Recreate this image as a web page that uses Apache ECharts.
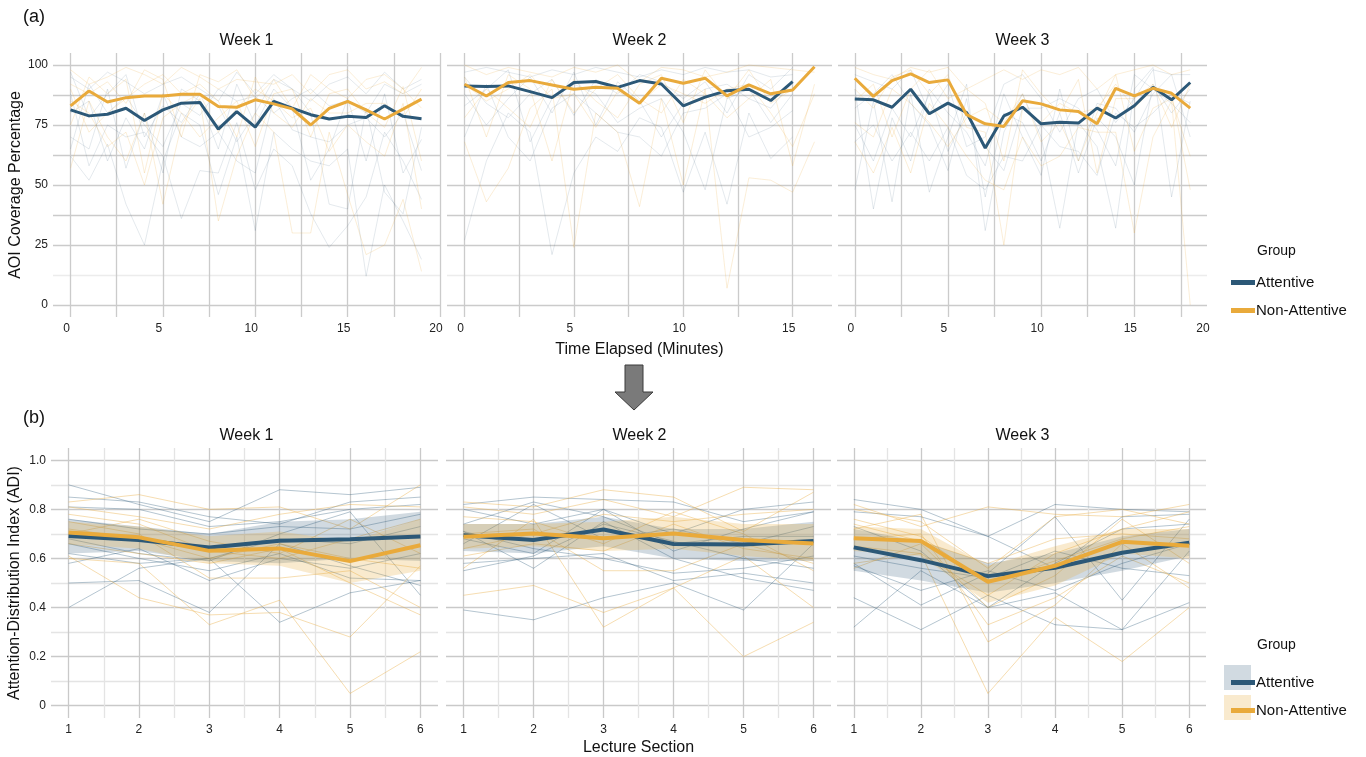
<!DOCTYPE html>
<html>
<head>
<meta charset="utf-8">
<script src="https://cdn.jsdelivr.net/npm/echarts@6.0.0/dist/echarts.min.js"></script>
<style>
html, body { margin: 0; padding: 0; background: #fff; }
#main { width: 1366px; height: 757px; }
</style>
</head>
<body>
<div id="main"></div>
<script>
var weeks = ['Week 1', 'Week 2', 'Week 3'];
var groups = ['Attentive', 'Non-Attentive'];

// (a) AOI coverage percentage per minute, group means
var minutesW1 = [0,1,2,3,4,5,6,7,8,9,10,11,12,13,14,15,16,17,18,19];
var minutesW2 = [0,1,2,3,4,5,6,7,8,9,10,11,12,13,14,15,16];
var minutesW3 = [0,1,2,3,4,5,6,7,8,9,10,11,12,13,14,15,16,17,18];

var aoiAttW1 = [81.3,78.8,79.5,82.0,76.9,81.3,84.1,84.4,73.3,80.6,74.1,84.8,82.0,79.3,77.5,78.6,78.1,83.0,78.6,77.6];
var aoiNonW1 = [83.0,89.2,84.6,86.4,87.1,87.1,87.8,87.8,82.7,82.4,85.5,83.8,81.7,75.0,81.9,84.8,81.3,77.5,81.6,85.8];
var aoiAttW2 = [91.3,91.0,91.3,88.9,86.4,92.7,93.1,90.7,93.5,92.1,83.0,86.6,89.3,89.9,85.2,93.1];
var aoiNonW2 = [92.0,87.1,92.7,93.5,91.7,89.9,90.7,90.3,84.1,94.5,92.4,94.5,87.1,91.7,88.0,89.6,99.3];
var aoiAttW3 = [85.8,85.5,82.4,89.9,79.7,84.1,80.2,65.4,78.8,82.4,75.5,76.1,75.8,82.0,77.9,83.0,90.7,85.5,92.7];
var aoiNonW3 = [94.5,86.9,93.5,96.3,92.7,93.8,79.3,75.5,74.4,85.1,83.8,81.3,80.6,75.5,90.3,87.1,90.3,88.2,82.0];

// (a) individual students (faint lines)
var aoiAttIndW1 = [
    [95,90,97,93,88,92,95,90,85,97,88,96,90,85,92,95,88,97,90,94],
    [62,52,67,42,25,60,80,75,46,70,31,72,65,60,58,65,12,50,35,19],
    [88,58,75,70,72,62,36,56,55,76,48,65,58,38,24,33,45,72,60,44],
    [80,85,60,78,65,88,70,66,72,60,55,86,73,70,68,75,78,70,80,56],
    [70,65,90,57,80,55,90,85,65,92,75,90,82,52,65,86,60,88,55,69],
    [97,78,88,96,70,83,76,88,83,68,80,94,90,80,42,40,82,47,38,74],
    [65,92,80,87,75,66,84,79,90,85,87,80,86,90,83,85,80,92,88,92]
];
var aoiNonIndW1 = [
    [98,92,95,99,96,92,99,95,90,94,93,92,96,88,96,98,90,93,88,99],
    [57,85,70,60,80,42,75,86,35,62,80,72,30,30,72,46,21,25,44,14],
    [75,95,88,94,55,88,80,70,78,85,66,88,90,70,88,90,80,74,91,60],
    [90,72,80,86,92,96,88,92,85,70,95,80,74,86,80,80,84,84,78,90],
    [85,80,66,72,50,78,84,88,72,82,90,85,78,82,64,75,68,62,84,40],
    [92,88,93,84,98,94,70,96,93,98,86,94,82,96,90,86,94,96,90,82]
];
var aoiAttIndW2 = [
    [97,99,97,95,98,96,99,97,95,98,96,99,97,98,95,96],
    [27,60,80,72,21,55,70,64,78,74,47,72,42,80,61,70],
    [83,90,98,68,86,92,88,76,82,86,72,48,86,90,76,88],
    [88,75,86,95,80,97,75,93,85,70,84,90,92,86,82,93],
    [95,84,78,88,94,79,94,88,96,93,86,93,80,96,90,99],
    [70,92,70,60,82,88,80,72,70,62,80,82,88,70,74,81]
];
var aoiNonIndW2 = [
    [100,96,99,97,95,99,97,100,93,99,98,95,97,100,99,98,97],
    [68,43,57,82,90,24,80,72,41,86,50,90,7,53,52,47,68],
    [92,85,90,96,86,88,74,89,84,92,88,84,90,92,80,66,88],
    [78,90,82,74,94,80,90,96,86,80,94,88,78,86,94,58,92],
    [95,70,96,90,60,94,85,78,92,96,76,98,86,98,84,90,99]
];
var aoiAttIndW3 = [
    [48,85,43,88,47,70,92,31,72,88,70,32,76,66,32,90,99,45,85],
    [90,40,78,60,90,80,72,58,88,70,54,90,60,84,82,72,88,96,70],
    [82,88,96,84,75,56,86,45,80,76,60,80,55,78,70,50,92,80,90],
    [96,93,90,98,80,92,66,70,92,96,86,72,86,90,76,86,98,96,96],
    [68,75,60,72,60,74,54,48,62,60,75,66,64,54,80,74,80,88,84],
    [75,60,82,70,88,64,80,66,56,82,82,86,82,73,58,96,90,84,76]
];
var aoiNonIndW3 = [
    [99,96,94,99,97,99,90,94,98,94,98,96,99,90,96,98,100,96,98],
    [68,55,74,55,84,74,62,52,48,70,58,62,74,72,72,30,70,85,0],
    [90,82,95,98,88,96,74,72,25,82,76,84,80,82,92,82,90,88,48],
    [85,92,70,90,98,86,90,84,60,98,88,80,94,55,86,86,92,74,92],
    [76,70,90,84,76,66,78,82,76,88,68,76,60,80,96,64,82,86,62]
];

// (b) Attention-Distribution Index per lecture section
var sections = [1, 2, 3, 4, 5, 6];

var adiAttW1 = [0.691,0.675,0.645,0.672,0.678,0.689];
var adiAttLoW1 = [0.62,0.63,0.59,0.58,0.60,0.59];
var adiAttHiW1 = [0.76,0.73,0.70,0.75,0.76,0.79];
var adiNonW1 = [0.706,0.686,0.631,0.641,0.589,0.654];
var adiNonLoW1 = [0.66,0.64,0.58,0.57,0.50,0.55];
var adiNonHiW1 = [0.75,0.73,0.69,0.71,0.67,0.76];

var adiAttW2 = [0.695,0.675,0.718,0.659,0.657,0.671];
var adiAttLoW2 = [0.63,0.62,0.65,0.60,0.59,0.59];
var adiAttHiW2 = [0.74,0.74,0.77,0.72,0.72,0.75];
var adiNonW2 = [0.688,0.702,0.682,0.702,0.675,0.661];
var adiNonLoW2 = [0.64,0.65,0.63,0.64,0.61,0.59];
var adiNonHiW2 = [0.74,0.74,0.75,0.77,0.74,0.74];

var adiAttW3 = [0.645,0.593,0.528,0.562,0.623,0.664];
var adiAttLoW3 = [0.55,0.51,0.46,0.50,0.55,0.61];
var adiAttHiW3 = [0.72,0.67,0.58,0.62,0.69,0.72];
var adiNonW3 = [0.682,0.671,0.505,0.570,0.668,0.652];
var adiNonLoW3 = [0.63,0.61,0.42,0.49,0.62,0.60];
var adiNonHiW3 = [0.73,0.72,0.57,0.65,0.72,0.72];

// (b) individual students
var adiAttIndW1 = [
    [0.90,0.82,0.75,0.88,0.86,0.89],
    [0.85,0.83,0.77,0.74,0.83,0.85],
    [0.81,0.80,0.73,0.75,0.80,0.82],
    [0.76,0.72,0.70,0.73,0.72,0.78],
    [0.68,0.62,0.59,0.70,0.79,0.45],
    [0.66,0.60,0.55,0.62,0.52,0.51],
    [0.50,0.51,0.38,0.66,0.57,0.49],
    [0.40,0.56,0.60,0.34,0.46,0.51],
    [0.58,0.64,0.51,0.60,0.56,0.62],
    [0.62,0.58,0.60,0.68,0.66,0.73]
];
var adiNonIndW1 = [
    [0.83,0.86,0.80,0.81,0.72,0.90],
    [0.81,0.77,0.72,0.78,0.82,0.81],
    [0.70,0.76,0.67,0.62,0.76,0.62],
    [0.61,0.44,0.37,0.38,0.28,0.57],
    [0.60,0.58,0.33,0.43,0.05,0.22],
    [0.75,0.70,0.52,0.52,0.55,0.40],
    [0.66,0.62,0.58,0.64,0.50,0.37],
    [0.78,0.74,0.63,0.60,0.68,0.76],
    [0.72,0.68,0.60,0.66,0.60,0.56]
];
var adiAttIndW2 = [
    [0.82,0.85,0.84,0.83,0.75,0.79],
    [0.80,0.74,0.80,0.70,0.80,0.83],
    [0.74,0.83,0.77,0.66,0.69,0.69],
    [0.55,0.61,0.74,0.67,0.60,0.56],
    [0.39,0.35,0.44,0.50,0.39,0.66],
    [0.71,0.56,0.75,0.60,0.52,0.47],
    [0.58,0.60,0.62,0.51,0.54,0.50],
    [0.66,0.82,0.68,0.72,0.66,0.73],
    [0.68,0.62,0.80,0.63,0.72,0.79],
    [0.71,0.64,0.60,0.54,0.56,0.61]
];
var adiNonIndW2 = [
    [0.83,0.81,0.88,0.85,0.71,0.87],
    [0.81,0.78,0.84,0.77,0.89,0.88],
    [0.45,0.49,0.38,0.48,0.20,0.34],
    [0.56,0.76,0.32,0.48,0.61,0.40],
    [0.70,0.72,0.55,0.55,0.66,0.58],
    [0.64,0.70,0.78,0.75,0.78,0.80],
    [0.77,0.75,0.66,0.79,0.70,0.55],
    [0.61,0.66,0.63,0.74,0.64,0.60]
];
var adiAttIndW3 = [
    [0.84,0.80,0.69,0.82,0.80,0.79],
    [0.79,0.77,0.69,0.56,0.77,0.78],
    [0.58,0.41,0.54,0.77,0.43,0.76],
    [0.32,0.55,0.40,0.46,0.31,0.63],
    [0.44,0.31,0.45,0.33,0.31,0.42],
    [0.57,0.47,0.55,0.47,0.58,0.66],
    [0.61,0.56,0.52,0.63,0.56,0.53],
    [0.73,0.63,0.40,0.58,0.72,0.74]
];
var adiNonIndW3 = [
    [0.82,0.73,0.81,0.78,0.77,0.82],
    [0.80,0.75,0.56,0.77,0.80,0.74],
    [0.58,0.62,0.05,0.36,0.18,0.40],
    [0.72,0.78,0.26,0.41,0.66,0.48],
    [0.68,0.70,0.33,0.44,0.61,0.50],
    [0.65,0.62,0.45,0.62,0.72,0.79],
    [0.74,0.67,0.58,0.68,0.70,0.68],
    [0.56,0.66,0.40,0.53,0.76,0.58],
    [0.76,0.69,0.50,0.59,0.68,0.73]
];

// tick and label positions
var aoiYTicks = [0,12.5,25,37.5,50,62.5,75,87.5,100];
var aoiYLabels = [0,25,50,75,100];
var adiYTicks = [0,0.1,0.2,0.3,0.4,0.5,0.6,0.7,0.8,0.9,1.0];
var adiYLabels = [0,0.2,0.4,0.6,0.8,1.0];
var minuteTicks = [
    [0,2.5,5,7.5,10,12.5,15,17.5,20],
    [0,2.5,5,7.5,10,12.5,15],
    [0,2.5,5,7.5,10,12.5,15,17.5]
];
var minuteLabels = [[0,5,10,15,20],[0,5,10,15],[0,5,10,15,20]];
var sectionTicks = [1,1.5,2,2.5,3,3.5,4,4.5,5,5.5,6];

var BLUE = '#2c5877';
var ORANGE = '#e9aa3b';
var FONT = 'Liberation Sans, Arial, sans-serif';
var GRID_MAJOR = '#c9c9c9';
var GRID_MINOR = '#e4e4e4';

var colLeft = [53, 447, 838];
var colWidth = [387, 385, 369];
var minuteRange = [[-0.95, 20], [-0.8, 16.8], [-0.9, 18.9]];

var aoiMeans = [[aoiAttW1, aoiNonW1], [aoiAttW2, aoiNonW2], [aoiAttW3, aoiNonW3]];
var aoiInd = [[aoiAttIndW1, aoiNonIndW1], [aoiAttIndW2, aoiNonIndW2], [aoiAttIndW3, aoiNonIndW3]];
var minutes = [minutesW1, minutesW2, minutesW3];
var adiMeans = [[adiAttW1, adiNonW1], [adiAttW2, adiNonW2], [adiAttW3, adiNonW3]];
var adiLo = [[adiAttLoW1, adiNonLoW1], [adiAttLoW2, adiNonLoW2], [adiAttLoW3, adiNonLoW3]];
var adiHi = [[adiAttHiW1, adiNonHiW1], [adiAttHiW2, adiNonHiW2], [adiAttHiW3, adiNonHiW3]];
var adiInd = [[adiAttIndW1, adiNonIndW1], [adiAttIndW2, adiNonIndW2], [adiAttIndW3, adiNonIndW3]];
var groupColor = [BLUE, ORANGE];

function pairs(xs, vals) {
    return vals.map(function (v, i) { return [xs[i], v]; });
}

var grids = [], xAxes = [], yAxes = [], series = [];

function addTopPanel(w) {
    var k = grids.length;
    grids.push({left: colLeft[w], width: colWidth[w], top: 53, height: 264, containLabel: false, outerBoundsMode: 'none'});
    xAxes.push({
        type: 'value', gridIndex: k, min: minuteRange[w][0], max: minuteRange[w][1],
        axisLine: {show: false},
        axisTick: {show: false, customValues: minuteTicks[w]},
        axisLabel: {
            customValues: minuteLabels[w].map(function (v) { return Math.min(v, minuteRange[w][1]); }),
            formatter: function (v) { return String(Math.round(v / 5) * 5); },
            color: '#222', fontSize: 12, fontFamily: FONT, margin: 6, padding: [0, 8, 0, 0]
        },
        splitLine: {show: true, lineStyle: {color: '#cbcbcb', width: 1.3}},
        name: w === 1 ? 'Time Elapsed (Minutes)' : '', nameLocation: 'middle', nameGap: 25,
        nameTextStyle: {fontSize: 16, color: '#111', fontFamily: FONT}
    });
    yAxes.push({
        type: 'value', gridIndex: k, min: -5, max: 105,
        axisLine: {show: false},
        axisTick: {show: false, customValues: aoiYTicks},
        axisLabel: {show: w === 0, customValues: aoiYLabels, color: '#222', fontSize: 12, fontFamily: FONT, margin: 5},
        splitLine: {show: true, lineStyle: {
            color: ['#cbcbcb', '#ececec', '#cbcbcb', '#cbcbcb', '#cbcbcb', '#cbcbcb', '#cbcbcb', '#cbcbcb', '#cbcbcb'],
            width: 1.3
        }},
        name: w === 0 ? 'AOI Coverage Percentage' : '', nameLocation: 'middle', nameGap: 28,
        nameTextStyle: {fontSize: 16, color: '#111', fontFamily: FONT}
    });
    for (var g = 0; g < 2; g++) {
        aoiInd[w][g].forEach(function (vals) {
            series.push({
                name: groups[g], type: 'line', xAxisIndex: k, yAxisIndex: k,
                data: pairs(minutes[w], vals), symbol: 'none', silent: true, z: 1,
                lineStyle: {color: groupColor[g], width: 1, opacity: g === 0 ? 0.13 : 0.2}
            });
        });
    }
    for (g = 0; g < 2; g++) {
        series.push({
            name: groups[g], type: 'line', xAxisIndex: k, yAxisIndex: k,
            data: pairs(minutes[w], aoiMeans[w][g]), symbol: 'none', silent: true, z: 4 + g,
            lineStyle: {color: groupColor[g], width: 3}
        });
    }
}

// confidence ribbon drawn as one polygon through the axis scales
function ribbonSeries(k, name, lo, hi, color, opacity) {
    return {
        name: name, type: 'custom', xAxisIndex: k, yAxisIndex: k, silent: true, z: 2,
        data: sections.map(function (x, i) { return [x, lo[i], hi[i]]; }),
        encode: {x: 0, y: [1, 2]},
        renderItem: function (params, api) {
            if (params.dataIndex !== 0) return null;
            var pts = [], i;
            for (i = 0; i < sections.length; i++) pts.push(api.coord([sections[i], hi[i]]));
            for (i = sections.length - 1; i >= 0; i--) pts.push(api.coord([sections[i], lo[i]]));
            return {type: 'polygon', shape: {points: pts}, style: {fill: color, opacity: opacity}};
        }
    };
}

function addBottomPanel(w) {
    var k = grids.length;
    grids.push({left: colLeft[w] - (w === 0 ? 2 : 1), width: colWidth[w], top: 448, height: 270, containLabel: false, outerBoundsMode: 'none'});
    xAxes.push({
        type: 'value', gridIndex: k, min: 0.75, max: 6.25,
        axisLine: {show: false},
        axisTick: {show: false, customValues: sectionTicks},
        axisLabel: {customValues: sections, color: '#222', fontSize: 12, fontFamily: FONT, margin: 6},
        splitLine: {show: true, lineStyle: {color: [GRID_MAJOR, GRID_MINOR], width: 1.3}},
        name: w === 1 ? 'Lecture Section' : '', nameLocation: 'middle', nameGap: 22,
        nameTextStyle: {fontSize: 16, color: '#111', fontFamily: FONT}
    });
    yAxes.push({
        type: 'value', gridIndex: k, min: -0.05, max: 1.05,
        axisLine: {show: false},
        axisTick: {show: false, customValues: adiYTicks},
        axisLabel: {
            show: w === 0, customValues: adiYLabels, color: '#222', fontSize: 12, fontFamily: FONT, margin: 5,
            formatter: function (v) { return v === 0 ? '0' : v.toFixed(1); }
        },
        splitLine: {show: true, lineStyle: {color: [GRID_MAJOR, GRID_MINOR], width: 1.3}},
        name: w === 0 ? 'Attention-Distribution Index (ADI)' : '', nameLocation: 'middle', nameGap: 28,
        nameTextStyle: {fontSize: 16, color: '#111', fontFamily: FONT}
    });
    for (var g = 0; g < 2; g++) {
        adiInd[w][g].forEach(function (vals) {
            series.push({
                name: groups[g], type: 'line', xAxisIndex: k, yAxisIndex: k,
                data: pairs(sections, vals), symbol: 'none', silent: true, z: 1,
                lineStyle: {color: groupColor[g], width: 1, opacity: g === 0 ? 0.35 : 0.4}
            });
        });
    }
    for (g = 0; g < 2; g++) {
        series.push(ribbonSeries(k, groups[g], adiLo[w][g], adiHi[w][g], groupColor[g], g === 0 ? 0.22 : 0.25));
    }
    for (g = 0; g < 2; g++) {
        series.push({
            name: groups[g], type: 'line', xAxisIndex: k, yAxisIndex: k,
            data: pairs(sections, adiMeans[w][g]), symbol: 'none', silent: true, z: 4 + g,
            lineStyle: {color: groupColor[g], width: 4}
        });
    }
}

for (var w = 0; w < 3; w++) {
    addTopPanel(w);
    addBottomPanel(w);
}

var graphics = [];
var titleStyle = {fontSize: 16, fill: '#111', fontFamily: FONT, align: 'center', verticalAlign: 'middle'};
for (var i = 0; i < 3; i++) {
    var cx = colLeft[i] + colWidth[i] / 2;
    graphics.push({type: 'text', x: cx, y: 41, style: Object.assign({text: weeks[i]}, titleStyle)});
    graphics.push({type: 'text', x: cx, y: 436, style: Object.assign({text: weeks[i]}, titleStyle)});
}
graphics.push({type: 'text', x: 23, y: 17, style: {text: '(a)', fontSize: 18, fill: '#111', fontFamily: FONT, verticalAlign: 'middle'}});
graphics.push({type: 'text', x: 23, y: 418, style: {text: '(b)', fontSize: 18, fill: '#111', fontFamily: FONT, verticalAlign: 'middle'}});
graphics.push({type: 'text', x: 1257, y: 251, style: {text: 'Group', fontSize: 14, fill: '#111', fontFamily: FONT, verticalAlign: 'middle'}});
graphics.push({type: 'text', x: 1257, y: 645, style: {text: 'Group', fontSize: 14, fill: '#111', fontFamily: FONT, verticalAlign: 'middle'}});
// legend key backgrounds for the ribbons
graphics.push({type: 'rect', z: 0, shape: {x: 1224, y: 665, width: 27, height: 25}, style: {fill: 'rgba(44,88,119,0.22)'}});
graphics.push({type: 'rect', z: 0, shape: {x: 1224, y: 695, width: 27, height: 25}, style: {fill: 'rgba(233,170,59,0.25)'}});
// arrow between the two parts
graphics.push({
    type: 'polygon', z: 10,
    shape: {points: [[625, 365], [643, 365], [643, 392], [653, 392], [634, 410], [615, 392], [625, 392]]},
    style: {fill: '#7a7a7a', stroke: '#3a3a3a', lineWidth: 1}
});

function legendFor(top, iconH) {
    return {
        orient: 'vertical', left: 1226, top: top, itemWidth: 24, itemHeight: iconH, itemGap: 13, z: 10,
        selectedMode: false,
        textStyle: {fontSize: 15, color: '#111', fontFamily: FONT, padding: [0, 0, 0, -4]},
        data: [
            {name: 'Attentive', icon: 'rect', itemStyle: {color: BLUE, opacity: 1}},
            {name: 'Non-Attentive', icon: 'rect', itemStyle: {color: ORANGE, opacity: 1}}
        ]
    };
}

var myChart = echarts.init(document.getElementById('main'));
var option = {
    animation: false,
    backgroundColor: '#fff',
    grid: grids,
    xAxis: xAxes,
    yAxis: yAxes,
    legend: [legendFor(270, 5), legendFor(670, 5)],
    graphic: graphics,
    series: series
};
myChart.setOption(option);
</script>
</body>
</html>
